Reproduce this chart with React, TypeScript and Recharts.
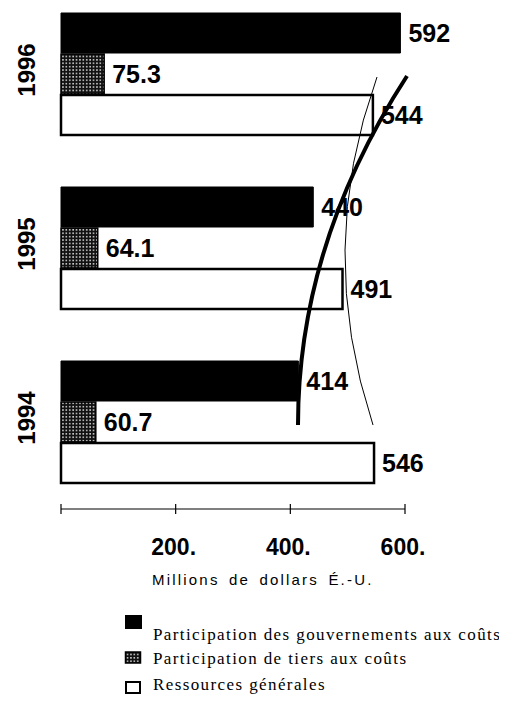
import { Bar, BarChart, LabelList, XAxis, YAxis } from "recharts";

// values per year, top to bottom as in the picture
const years = ["1996", "1995", "1994"];
const govShare = [592, 440, 414];
const thirdParty = [75.3, 64.1, 60.7];
const generalRes = [544, 491, 546];
const xTicks = [0, 200, 400, 600];
const seriesNames = [
  "Participation des gouvernements aux coûts",
  "Participation de tiers aux coûts",
  "Ressources générales",
];
const axisTitle = "Millions de dollars É.-U.";

const data = years.map((year, i) => ({
  year,
  gov: govShare[i],
  third: thirdParty[i],
  general: generalRes[i],
}));

const sans = "'Liberation Sans', Arial, sans-serif";
const serif = "'Liberation Serif', 'Times New Roman', serif";

const XTick = ({ x, y, payload }: any) => (
  <g>
    <line x1={x} y1={y - 5} x2={x} y2={y + 5} stroke="#000" strokeWidth={1.2} />
    {payload.value !== 0 && (
      <text x={x - 2} y={y + 46} textAnchor="middle" fontFamily={sans} fontSize={23} fontWeight="bold" fill="#000">
        {`${payload.value}.`}
      </text>
    )}
  </g>
);

const YearTick = ({ x, y, payload }: any) => {
  const tx = x - 26;
  const ty = y - 4;
  return (
    <text x={tx} y={ty} transform={`rotate(-90, ${tx}, ${ty})`} textAnchor="middle" fontFamily={sans} fontSize={24} fontWeight="bold" fill="#000">
      {payload.value}
    </text>
  );
};

const labelProps = { position: "right" as const, offset: 8, fill: "#000", fontSize: 25, fontWeight: "bold", fontFamily: sans };

export default function App() {
  return (
    <div style={{ position: "relative", width: 507, height: 702, margin: -8, background: "#fff", overflow: "hidden" }}>
      <svg width={0} height={0} style={{ position: "absolute" }}>
        <defs>
          <pattern id="dotHatch" width="3.4" height="3.4" patternUnits="userSpaceOnUse">
            <rect width="3.4" height="3.4" fill="#111" />
            <rect x="1" y="1" width="1.5" height="1.3" fill="#fff" />
          </pattern>
        </defs>
      </svg>
      <div style={{ position: "absolute", left: 0, top: -20 }}>
        <BarChart
          width={507}
          height={589}
          data={data}
          layout="vertical"
          margin={{ top: 7, right: 102, bottom: 0, left: 8 }}
          barSize={40}
          barGap={1}
        >
          <XAxis
            type="number"
            domain={[0, 600]}
            ticks={xTicks}
            interval={0}
            tick={<XTick />}
            tickLine={false}
            tickSize={0}
            tickMargin={0}
            axisLine={{ stroke: "#000", strokeWidth: 1.2 }}
            height={60}
          />
          <YAxis
            type="category"
            dataKey="year"
            width={53}
            axisLine={false}
            tickLine={false}
            tickSize={0}
            tickMargin={0}
            tick={<YearTick />}
          />
          <Bar dataKey="gov" fill="#000" stroke="#000" strokeWidth={1} isAnimationActive={false}>
            <LabelList dataKey="gov" {...labelProps} />
          </Bar>
          <Bar dataKey="third" fill="url(#dotHatch)" stroke="#000" strokeWidth={1.5} isAnimationActive={false}>
            <LabelList dataKey="third" {...labelProps} />
          </Bar>
          <Bar dataKey="general" fill="#fff" stroke="#000" strokeWidth={2.5} isAnimationActive={false}>
            <LabelList dataKey="general" {...labelProps} />
          </Bar>
        </BarChart>
      </div>
      {/* decorative arcs, axis title and legend */}
      <svg width={507} height={702} style={{ position: "absolute", left: 0, top: 0, pointerEvents: "none" }}>
        <path d="M407,76 Q298,244 298,425" fill="none" stroke="#000" strokeWidth={4} />
        <path d="M377,77 Q315,249 373,425" fill="none" stroke="#000" strokeWidth={1} />
        <text x={152} y={585} fontFamily={sans} fontSize={15} letterSpacing={2.2} wordSpacing={3} fill="#000">
          {axisTitle}
        </text>
        <rect x={125} y={615} width={17} height={14} fill="#000" />
        <rect x={125.5} y={652} width={15} height={11} fill="url(#dotHatch)" stroke="#000" strokeWidth={1.5} />
        <rect x={126} y={682} width={14} height={11} fill="#fff" stroke="#000" strokeWidth={2} />
        {seriesNames.map((name, i) => (
          <text key={name} x={153} y={[640, 664, 690][i]} fontFamily={serif} fontSize={17} letterSpacing={1.4} fill="#000">
            {name}
          </text>
        ))}
      </svg>
    </div>
  );
}
